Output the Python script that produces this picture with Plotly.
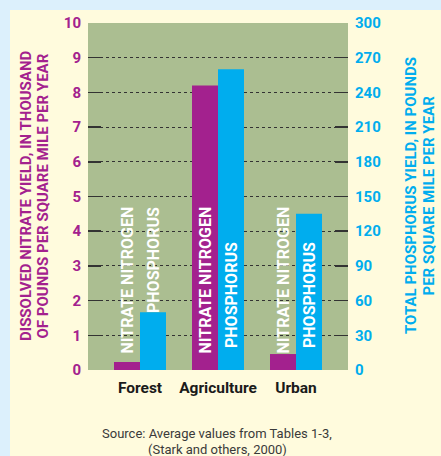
import plotly.graph_objects as go

categories = ["Forest", "Agriculture", "Urban"]
nitrate = [0.23, 8.2, 0.46]          # thousand lb / sq mi / yr
phosphorus = [50, 260, 135]          # lb / sq mi / yr
left_ticks = list(range(0, 11))
right_ticks = list(range(0, 301, 30))

MAG = "#a3218e"
CYAN = "#00adee"
CREAM = "#fffbdd"
BLUE = "#dcf0fc"
PLOTBG = "#abbe91"
FONT = "Roboto"

W, H = 441, 456
L, R, T, B = 88, 93, 23, 86
PW, PH = W - L - R, H - T - B


def px(x):
    return (x - L) / PW


def py(y):
    return (H - B - y) / PH


fig = go.Figure()
fig.add_trace(go.Bar(x=categories, y=nitrate, marker_color=MAG, marker_line_width=0,
                     offset=-1/3, width=1/3, yaxis="y", hoverinfo="skip"))
fig.add_trace(go.Bar(x=categories, y=phosphorus, marker_color=CYAN, marker_line_width=0,
                     offset=0, width=1/3, yaxis="y2", hoverinfo="skip"))

ann = []
lab_font = dict(family=FONT, size=16, color="white", weight="bold")
for i, c in enumerate(categories):
    ann.append(dict(text="NITRATE NITROGEN", x=i - 1/6, xref="x", y=py(205), yref="paper",
                    textangle=-90, xanchor="center", yanchor="top", showarrow=False, font=lab_font))
    if i == 0:
        ann.append(dict(text="PHOSPHORUS", x=i + 1/6, xref="x", y=py(205), yref="paper",
                        textangle=-90, xanchor="center", yanchor="top", showarrow=False, font=lab_font))
    else:
        ann.append(dict(text="PHOSPHORUS", x=i + 1/6, xref="x", y=py(350), yref="paper",
                        textangle=-90, xanchor="center", yanchor="bottom", showarrow=False, font=lab_font))

tfont_l = dict(family=FONT, size=15, color=MAG, weight="bold")
tfont_r = dict(family=FONT, size=15, color=CYAN, weight="bold")
src_font = dict(family=FONT, size=13, color="#3a3a3a")
ann += [
    dict(text="DISSOLVED NITRATE YIELD, IN THOUSAND", x=px(26), y=py(196), xref="paper", yref="paper",
         textangle=-90, showarrow=False, font=tfont_l, xanchor="center", yanchor="middle"),
    dict(text="OF POUNDS PER SQUARE MILE PER YEAR", x=px(42.5), y=py(196), xref="paper", yref="paper",
         textangle=-90, showarrow=False, font=tfont_l, xanchor="center", yanchor="middle"),
    dict(text="TOTAL PHOSPHORUS YIELD, IN POUNDS", x=px(411), y=py(196), xref="paper", yref="paper",
         textangle=-90, showarrow=False, font=tfont_r, xanchor="center", yanchor="middle"),
    dict(text="PER SQUARE MILE PER YEAR", x=px(428.5), y=py(196), xref="paper", yref="paper",
         textangle=-90, showarrow=False, font=tfont_r, xanchor="center", yanchor="middle"),
    dict(text="Source: Average values from Tables 1-3,", x=px(217), y=py(433), xref="paper", yref="paper",
         showarrow=False, font=src_font, xanchor="center", yanchor="middle"),
    dict(text="(Stark and others, 2000)", x=px(217), y=py(449), xref="paper", yref="paper",
         showarrow=False, font=src_font, xanchor="center", yanchor="middle"),
]

shapes = [
    dict(type="rect", xref="paper", yref="paper", x0=px(0), x1=px(W), y0=py(0), y1=py(10),
         fillcolor=BLUE, line_width=0, layer="below"),
    dict(type="rect", xref="paper", yref="paper", x0=px(0), x1=px(10), y0=py(0), y1=py(H),
         fillcolor=BLUE, line_width=0, layer="below"),
]

fig.update_layout(
    width=W, height=H,
    margin=dict(l=L, r=R, t=T, b=B, pad=0),
    paper_bgcolor=CREAM, plot_bgcolor=PLOTBG,
    showlegend=False, barmode="overlay",
    annotations=ann, shapes=shapes,
    xaxis=dict(type="category", range=[-2/3, 2 + 2/3], showgrid=False, zeroline=False, showline=False,
               ticks="", tickfont=dict(family=FONT, size=15.5, color="#1a1a1a", weight="bold"),
               ticklabelstandoff=6),
    yaxis=dict(range=[0, 10], tickvals=left_ticks, showgrid=True, gridcolor="#333333", griddash="dot",
               gridwidth=1, zeroline=False, showline=False, ticks="inside", ticklen=13, tickwidth=1.5,
               tickcolor="#333333", tickfont=dict(family=FONT, size=15, color=MAG, weight="bold"),
               ticklabelstandoff=6),
    yaxis2=dict(range=[0, 300], tickvals=right_ticks, overlaying="y", side="right", showgrid=False,
                zeroline=False, showline=False, ticks="inside", ticklen=13, tickwidth=1.5,
                tickcolor="#333333", tickfont=dict(family=FONT, size=15, color=CYAN, weight="bold"),
                ticklabelstandoff=6),
)

fig.write_html("out.html", config={"displayModeBar": False, "staticPlot": True},
               post_script="document.body.style.margin='0';document.body.style.background='%s';" % BLUE)
